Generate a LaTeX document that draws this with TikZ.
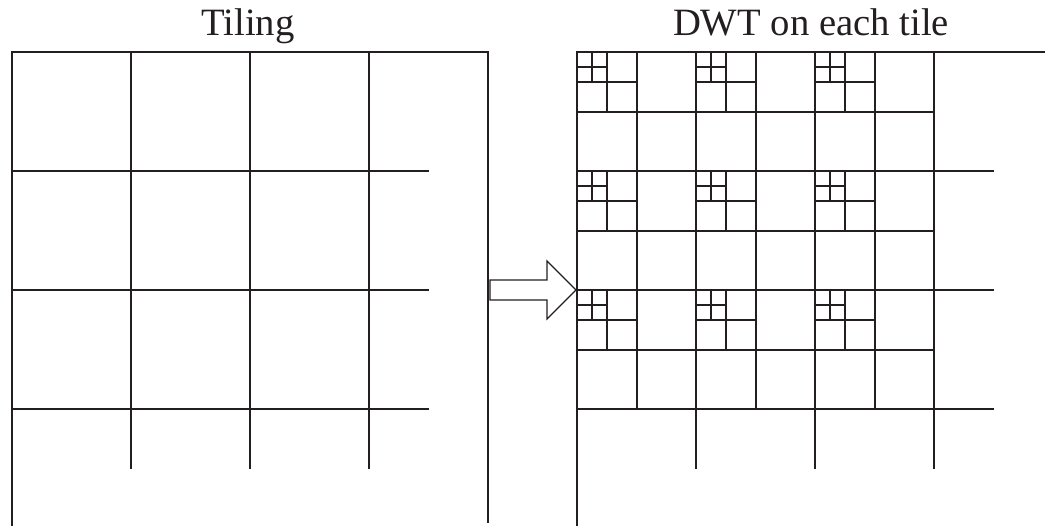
\documentclass[tikz,border=0pt]{standalone}
\usepackage{fontspec}
\setmainfont{Liberation Serif}
\definecolor{ink}{RGB}{35,31,32}

\begin{document}
\begin{tikzpicture}[x=0.75pt, y=-0.75pt,
  grid/.style={draw=ink, line width=1.3pt},
  caption/.style={anchor=base, inner sep=0pt, text=ink,
    font=\fontsize{29}{34}\selectfont}]
  \useasboundingbox (0,0) rectangle (1045,525);
  \clip (0,0) rectangle (1045,525);

  \node[caption] (tiling) at (248,35) {Tiling};
  \node[caption] (dwt) at (811,35) {DWT on each tile};

  % image frame and tile grid, once per panel
  \foreach \ox in {12,577} {
    \draw[grid] (\ox,530) -- (\ox,52) -- (\ox+476,52) -- (\ox+476,523);
    \foreach \i in {1,2,3} {
      \draw[grid] (\ox+119*\i,52) -- (\ox+119*\i,468.5);
      \draw[grid] (\ox,52+119*\i) -- (\ox+416.5,52+119*\i);
    }
  }

  % three levels of subbands in each whole tile
  \foreach \i in {0,1,2}
    \foreach \j in {0,1,2}
      \foreach \s in {60,30,15} {
        \draw[grid] (577+119*\i+\s,52+119*\j) -- ++(0,2*\s-1);
        \draw[grid] (577+119*\i,52+119*\j+\s) -- ++(2*\s-1,0);
      }

  % block arrow between the panels
  \draw[draw=ink, line width=0.9pt, fill=white]
    (490,280) -- (547,280) -- (547,261) -- (576,290)
    -- (547,319) -- (547,300) -- (490,300) -- cycle;
\end{tikzpicture}
\end{document}
